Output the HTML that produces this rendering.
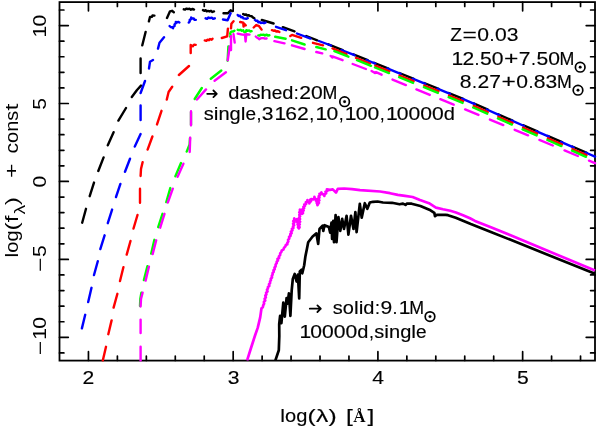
<!DOCTYPE html>
<html><head><meta charset="utf-8"><title>SED</title>
<style>html,body{margin:0;padding:0;background:#fff}svg{display:block}</style></head>
<body><svg width="598" height="429" viewBox="0 0 598 429">
<rect width="598" height="429" fill="#fff"/>
<rect x="59.50" y="2.10" width="535.50" height="358.50" fill="none" stroke="#000" stroke-width="1.8"/>
<path d="M88.45 2.00v8.8M88.45 360.50v-8.8M117.39 2.00v4.4M117.39 360.50v-4.4M146.34 2.00v4.4M146.34 360.50v-4.4M175.28 2.00v4.4M175.28 360.50v-4.4M204.23 2.00v4.4M204.23 360.50v-4.4M233.18 2.00v8.8M233.18 360.50v-8.8M262.12 2.00v4.4M262.12 360.50v-4.4M291.07 2.00v4.4M291.07 360.50v-4.4M320.01 2.00v4.4M320.01 360.50v-4.4M348.96 2.00v4.4M348.96 360.50v-4.4M377.91 2.00v8.8M377.91 360.50v-8.8M406.85 2.00v4.4M406.85 360.50v-4.4M435.80 2.00v4.4M435.80 360.50v-4.4M464.74 2.00v4.4M464.74 360.50v-4.4M493.69 2.00v4.4M493.69 360.50v-4.4M522.64 2.00v8.8M522.64 360.50v-8.8M551.58 2.00v4.4M551.58 360.50v-4.4M580.53 2.00v4.4M580.53 360.50v-4.4M59.50 352.91h4.4M595.00 352.91h-4.4M59.50 337.32h8.8M595.00 337.32h-8.8M59.50 321.73h4.4M595.00 321.73h-4.4M59.50 306.15h4.4M595.00 306.15h-4.4M59.50 290.56h4.4M595.00 290.56h-4.4M59.50 274.97h4.4M595.00 274.97h-4.4M59.50 259.38h8.8M595.00 259.38h-8.8M59.50 243.80h4.4M595.00 243.80h-4.4M59.50 228.21h4.4M595.00 228.21h-4.4M59.50 212.62h4.4M595.00 212.62h-4.4M59.50 197.04h4.4M595.00 197.04h-4.4M59.50 181.45h8.8M595.00 181.45h-8.8M59.50 165.86h4.4M595.00 165.86h-4.4M59.50 150.28h4.4M595.00 150.28h-4.4M59.50 134.69h4.4M595.00 134.69h-4.4M59.50 119.10h4.4M595.00 119.10h-4.4M59.50 103.52h8.8M595.00 103.52h-8.8M59.50 87.93h4.4M595.00 87.93h-4.4M59.50 72.34h4.4M595.00 72.34h-4.4M59.50 56.75h4.4M595.00 56.75h-4.4M59.50 41.17h4.4M595.00 41.17h-4.4M59.50 25.58h8.8M595.00 25.58h-8.8M59.50 9.99h4.4M595.00 9.99h-4.4" stroke="#000" stroke-width="1.7" stroke-linecap="round" fill="none"/>
<path d="M82.2 222.7L86.0 208.8M89.7 196.2L94.0 182.6M98.3 171.0L103.6 157.4M107.8 145.3L113.6 132.2M118.4 120.6L126.0 108.0M131.8 97.0L137.0 90.0L141.0 85.6M140.6 73.0L140.6 58.4M142.3 45.3L145.6 32.0M148.9 21.4L150.0 17.0L152.0 16.8L152.5 15.5L154.4 15.6M167.0 18.0L170.0 11.3L172.0 10.8L173.8 12.2M183.8 9.3L185.2 9.6L186.6 8.6L188.0 9.1L189.5 8.7L190.9 9.7L192.5 8.9L194.0 9.6M203.0 10.1L204.2 10.8L205.6 10.2L206.7 11.3L208.0 10.9L209.5 11.5L211.0 10.8L212.4 12.0L214.0 11.4M223.5 13.2L228.0 13.2L230.6 10.3L232.7 11.1M243.2 14.1L244.5 14.7L246.1 14.5L247.3 15.5L248.9 15.2L250.1 16.1L251.6 16.1L252.8 17.4L254.4 18.2M261.8 20.0L273.6 23.5M282.8 27.2L294.5 31.4M306.3 36.0L317.2 40.3M328.3 44.3L342.7 50.1M353.3 54.4L367.7 60.2M374.1 62.8L388.5 68.6M399.4 73.0L413.8 78.9M424.2 83.0L438.6 88.9M448.9 93.1L463.2 98.9M473.6 103.4L487.9 109.7M498.2 114.3L512.6 120.6M522.9 125.2L537.4 131.4M547.6 135.9L562.1 142.1M572.3 146.5L586.8 152.8" stroke="#000" stroke-width="2.4" stroke-linecap="round" stroke-linejoin="round" fill="none"/>
<path d="M81.9 328.4L85.2 314.8M88.2 302.0L91.5 287.8M94.0 275.0L97.8 261.2M100.3 249.1L104.6 235.3M107.8 223.2L112.1 209.6M116.0 197.0L120.4 183.9M125.0 171.8L130.0 158.7M134.8 146.6L140.6 134.0M140.6 120.0L140.6 105.5M140.6 93.0L145.0 81.0M149.0 68.5L150.0 61.7L153.0 60.0M158.0 48.6L159.5 42.8L164.0 37.3M169.6 26.0L170.6 27.0L172.0 27.2L173.0 28.3L173.3 26.8L174.6 25.9L174.5 24.4L175.7 23.4L175.8 21.9L177.0 22.5L178.3 21.9L179.4 22.5M188.8 22.6L189.7 21.5L189.7 19.9L191.1 19.1L191.2 17.5L192.2 18.5L193.7 18.4L194.4 19.8L195.8 19.9M205.6 18.3L207.1 18.8L208.5 17.5L210.0 18.1L211.7 17.6L213.1 18.9L214.8 18.3M223.0 19.5L227.6 20.2L230.6 13.2M237.7 14.9L238.6 16.0L240.2 15.8L241.0 17.3L242.6 17.1L243.4 18.4L244.9 18.6L246.3 18.8L247.8 18.2M254.9 19.9L256.0 20.7L257.5 20.8L258.2 22.2L259.8 22.0L260.7 23.1L262.3 22.6L264.0 23.2L265.5 22.6M276.0 26.8L286.0 30.2M297.0 33.5L310.5 38.6M318.9 41.0L331.0 45.5M341.5 50.0L354.5 55.2M366.5 60.0L375.3 63.6M387.3 68.4L400.6 73.8M412.6 78.7L425.4 83.8M437.4 88.7L450.1 93.8M462.1 98.7L474.8 104.2M486.8 109.5L499.4 115.1M511.4 120.4L524.1 126.0M536.1 131.2L548.9 136.7M560.9 141.9L573.5 147.4M585.5 152.5L595.0 156.6" stroke="#0000ff" stroke-width="2.4" stroke-linecap="round" stroke-linejoin="round" fill="none"/>
<path d="M102.8 360.4L106.0 346.8M108.3 334.2L111.6 320.4M113.6 307.6L117.4 293.8M120.0 281.0L123.4 267.2M126.7 254.6L130.5 241.0M133.5 228.5L137.5 215.0M140.0 202.8L140.0 188.7M140.6 176.0L141.0 169.0L142.6 162.2M147.6 149.6L152.4 136.5M157.0 124.4L161.5 110.8M166.8 99.5L168.6 92.0L172.2 86.8M178.9 75.0L189.0 66.0M190.7 53.0L190.7 44.9L192.8 46.2L194.0 44.6L195.7 44.9M204.8 40.4L206.3 40.8L207.6 39.6L209.0 40.2L210.0 39.0L211.6 39.8L212.5 38.7M221.8 38.0L227.2 36.3L227.9 28.7M231.0 28.3L231.4 23.7L233.5 21.2M240.2 22.0L243.2 22.7L243.6 26.5L244.0 23.5L245.7 25.4M253.7 27.5L256.2 25.0L259.1 26.2L261.6 29.6M271.9 30.2L273.4 30.7L275.0 30.5L276.3 31.5L278.0 31.2L279.4 32.0M290.3 36.0L292.0 34.9L301.2 37.8M313.0 42.8L323.0 45.3M332.5 48.4L346.5 54.1M356.0 57.9L370.0 63.5M375.3 65.7L389.3 71.3M399.6 75.5L413.6 81.2M424.4 85.5L438.4 91.2M449.1 95.5L463.1 101.2M473.8 105.9L487.8 112.0M498.4 116.8L512.5 122.9M523.1 127.7L537.1 133.7M547.9 138.3L561.9 144.4M572.5 149.0L586.5 155.1" stroke="#ff0000" stroke-width="2.4" stroke-linecap="round" stroke-linejoin="round" fill="none"/>
<path d="M140.0 306.0L140.3 299.0L141.4 292.6M143.9 280.0L147.4 266.2M151.2 253.6L154.4 239.8M158.2 227.2L162.5 213.8M166.3 202.0L170.3 188.1M175.4 176.3L181.0 163.0M186.7 151.6L189.6 144.5L190.0 138.0M191.0 125.0L191.0 112.0M194.7 99.0L201.8 88.0M210.8 78.8L221.3 70.5M227.6 60.8L228.4 46.4M230.2 36.5L230.6 35.1L230.2 33.5L230.7 32.1L231.8 31.5L233.2 31.5L234.4 30.7M237.7 29.8L239.0 30.2L240.5 29.8L241.8 30.7L243.2 30.3L243.8 31.6L244.9 32.4L246.0 31.6L246.4 30.2L247.7 30.8L249.1 30.4L250.2 31.5L251.6 31.2M258.3 35.4L259.6 35.7L260.7 34.7L262.0 34.9L263.5 34.6L264.9 35.5L266.5 34.6L267.9 35.5L269.4 35.2M275.2 36.8L285.6 38.7M292.0 40.3L304.6 44.5M316.3 47.0L325.7 49.4M334.4 51.1L348.4 56.7M357.0 60.2L371.0 65.8M375.0 67.5L389.0 73.1M399.1 77.2L413.1 82.9M423.9 87.2L437.9 92.9M448.6 97.2L462.6 102.9M473.2 107.5L487.2 113.7M497.9 118.4L511.9 124.6M522.6 129.3L536.6 135.4M547.4 140.0L561.4 146.1M572.0 150.7L586.0 156.8" stroke="#00ff00" stroke-width="2.4" stroke-linecap="round" stroke-linejoin="round" fill="none"/>
<path d="M140.6 360.4L140.6 346.8M140.6 333.0L140.6 319.6M140.6 306.5L141.0 299.0L142.6 292.7M145.6 280.6L148.9 266.7M152.7 254.0L156.2 240.3M160.2 227.7L164.5 213.8M167.8 202.5L172.8 188.7M177.6 176.8L183.4 163.7M189.7 152.0L190.2 137.8M191.0 125.2L191.0 111.3M197.0 99.5L206.0 89.4M214.6 80.7L225.9 72.2M227.8 60.2L229.7 46.4M231.0 50.0L231.0 36.3M234.7 42.6L233.5 34.2M237.7 33.6L242.3 34.6L245.0 34.8L245.6 41.5L246.3 34.2L249.5 34.6M255.8 36.5L256.8 37.5L258.2 38.2L259.2 39.3L260.5 38.4L262.0 38.1L263.6 38.1L265.0 38.6L266.6 38.5M274.4 41.1L284.5 43.3M292.0 45.3L304.6 49.0M316.3 52.0L322.2 53.4M330.7 55.9L332.5 57.5L333.0 56.6L342.6 60.2M352.7 64.0L365.9 69.0M371.6 70.9L375.0 73.0L376.0 72.2L381.6 74.7M392.5 79.6L405.9 85.1M416.4 89.4L429.8 94.9M440.3 99.2L453.7 104.7M465.1 109.4L478.5 114.9M489.9 119.6L503.3 125.1M514.7 129.8L528.1 135.3M539.4 139.9L552.8 145.5M564.5 150.4L577.9 156.0M589.0 160.7L595.0 163.2" stroke="#ff00ff" stroke-width="2.4" stroke-linecap="round" stroke-linejoin="round" fill="none"/>
<path d="M247.1 360.4L251.0 348.0L255.2 335.0L257.7 327.9L260.2 317.4L261.5 308.3L262.8 307.2L263.2 305.4L264.1 303.6L263.9 301.9L265.2 300.5L264.6 298.8L265.8 297.4L265.3 295.7L266.4 294.3L266.1 292.7L267.5 291.5L267.0 289.8L267.9 288.4L268.0 286.9L269.3 285.9L269.0 284.2L270.1 283.1L270.0 281.5L270.9 280.3L270.8 278.7L272.0 277.5L271.8 275.9L272.6 274.5L272.6 273.0L273.7 271.9L273.5 270.3L274.7 269.2L274.5 267.7L275.6 266.3L275.6 264.5L276.7 263.2L276.7 261.7L277.9 260.6L277.5 258.9L279.1 258.0L278.9 256.4L280.1 255.1L280.2 253.3L281.3 252.0L281.8 250.4L283.4 249.6L284.0 247.9L285.4 246.4L285.8 245.0L287.3 244.3L287.4 242.7L288.3 241.5L288.1 239.8L289.3 238.6L289.1 236.9L290.6 235.8L290.3 234.1L291.6 233.1L290.9 231.5L292.4 230.5L291.9 228.9L293.4 228.0L293.0 226.4L294.1 225.3L293.1 223.7L294.3 222.5L293.3 221.0L295.0 219.9L294.2 218.4L294.5 219.8L295.9 220.2L297.1 219.1L297.7 220.3L296.9 221.8L298.3 222.9L297.6 224.4L298.7 225.6L298.0 227.2L298.9 228.4L299.6 227.1L298.2 225.7L299.7 224.4L298.4 223.0L300.1 221.7L298.6 220.3L300.0 219.0L299.1 217.6L300.1 216.3L299.3 214.9L300.3 213.7L299.3 212.2L300.8 211.0L299.9 209.6L300.0 210.9L301.7 211.5L300.9 213.2L302.1 213.9L303.0 213.0L301.9 211.4L303.6 210.6L302.6 209.1L304.1 208.2L303.4 206.8L304.9 205.9L304.3 204.5L306.1 204.0L305.8 202.3L307.6 201.6L307.4 200.0L307.6 201.6L309.5 201.9L309.4 203.4L309.6 202.0L310.9 201.3L310.2 199.7L311.6 199.0L313.1 199.5L314.4 198.7L314.4 196.9L314.8 198.6L316.3 199.3L315.9 200.7L317.2 201.6L316.7 203.0L318.2 203.8L317.5 205.2L317.3 203.8L318.9 202.8L317.8 201.3L319.3 200.3L318.0 198.7L319.4 197.7L318.7 196.3L319.9 195.2L319.5 193.8L320.9 193.7L321.4 192.5L321.9 193.9L323.3 194.3L324.4 195.9L324.6 194.2L326.1 193.4L325.5 191.7L327.3 190.9L326.9 189.3L330.0 189.8L332.8 189.4L336.0 192.6L337.8 188.8L344.1 188.5L352.0 189.2L360.0 190.1L380.1 191.5L390.0 193.2L397.8 194.9L405.0 195.9L412.6 197.0L420.0 200.0L429.0 203.2L435.9 207.6L443.0 209.3L450.3 210.8L456.0 212.5L463.0 215.2L470.0 218.3L475.0 220.9L490.9 227.3L510.0 235.0L595.0 270.6" stroke="#ff00ff" stroke-width="2.7" stroke-linejoin="round" stroke-linecap="butt" fill="none"/>
<path d="M275.4 360.4L278.8 350.3L279.3 336.0L279.2 324.2L280.1 315.8L281.4 323.2L283.3 302.7L284.8 316.7L286.6 298.0L287.6 303.7L288.9 293.4L290.4 315.8L291.7 290.3L292.8 279.0L294.7 274.0L296.6 281.5L297.9 274.6L299.2 298.5L299.8 271.4L301.6 269.6L302.3 273.3L304.2 265.2L305.4 256.4L306.9 249.0L308.2 242.2L312.6 236.5L316.4 233.4L318.2 244.0L319.5 229.0L322.6 225.8L323.3 230.9L324.5 225.2L328.9 227.1L330.2 232.7L331.5 222.7L332.1 239.0L333.3 220.8L334.0 242.2L335.6 215.1L336.5 242.2L338.4 217.0L340.3 230.9L342.2 218.9L344.0 229.0L346.6 215.8L348.4 234.6L351.0 215.8L353.5 229.0L355.4 212.0L356.6 232.1L359.8 203.8L361.7 217.6L364.8 203.2L367.3 208.8L369.8 202.5L373.0 201.8L377.6 201.5L383.0 202.5L392.0 202.8L399.5 204.3L403.0 203.6L405.5 204.9L407.0 203.5L411.6 203.7L420.4 206.0L430.5 210.3L434.3 212.8L435.0 216.1L436.8 214.8L445.6 214.8L448.0 215.2L455.7 217.8L470.8 224.1L490.9 231.9L510.0 239.6L595.0 273.8" stroke="#000" stroke-width="2.7" stroke-linejoin="round" stroke-linecap="butt" fill="none"/>
<g font-family="'Liberation Sans', sans-serif" font-size="17.8" fill="#000" stroke="#000" stroke-width="0.15" opacity="0.999">
<text transform="translate(88.40 384.40) scale(1.186 1)" text-anchor="middle" font-size="17.8">2</text>
<text transform="translate(233.50 384.40) scale(1.186 1)" text-anchor="middle" font-size="17.8">3</text>
<text transform="translate(378.20 384.40) scale(1.186 1)" text-anchor="middle" font-size="17.8">4</text>
<text transform="translate(522.90 384.40) scale(1.186 1)" text-anchor="middle" font-size="17.8">5</text>
<text transform="translate(282.70 422.40) scale(1.188 1)" text-anchor="middle" font-size="17.8">l</text>
<text transform="translate(290.62 422.40) scale(1.127 1)" text-anchor="middle" font-size="17.8">o</text>
<text transform="translate(301.78 422.40) scale(1.127 1)" text-anchor="middle" font-size="17.8">g</text>
<text transform="translate(311.46 422.40) scale(1.380 1)" text-anchor="middle" font-size="17.8">(</text>
<text transform="translate(322.03 422.40) scale(1.380 1)" text-anchor="middle" font-size="17.8">λ</text>
<text transform="translate(332.59 422.40) scale(1.380 1)" text-anchor="middle" font-size="17.8">)</text>
<text transform="translate(349.36 422.40) scale(1.380 1)" text-anchor="middle" font-size="17.8">[</text>
<text transform="translate(370.95 422.40) scale(1.380 1)" text-anchor="middle" font-size="17.8">]</text>
<text x="359.3" y="422.4" text-anchor="middle" font-family="'Liberation Serif', serif" font-weight="bold" font-size="17" stroke="none">Å</text>
<text transform="translate(456.21 41.30) scale(1.079 1)" text-anchor="middle" font-size="17.8">Z</text>
<text transform="translate(469.71 41.30) scale(1.380 1)" text-anchor="middle" font-size="17.8">=</text>
<text transform="translate(483.21 41.30) scale(1.186 1)" text-anchor="middle" font-size="17.8">0</text>
<text transform="translate(492.02 41.30) scale(1.000 1)" text-anchor="middle" font-size="17.8">.</text>
<text transform="translate(500.82 41.30) scale(1.186 1)" text-anchor="middle" font-size="17.8">0</text>
<text transform="translate(512.56 41.30) scale(1.186 1)" text-anchor="middle" font-size="17.8">3</text>
<text transform="translate(457.35 64.60) scale(1.186 1)" text-anchor="middle" font-size="17.8">1</text>
<text transform="translate(468.29 64.60) scale(1.186 1)" text-anchor="middle" font-size="17.8">2</text>
<text transform="translate(477.09 64.60) scale(1.000 1)" text-anchor="middle" font-size="17.8">.</text>
<text transform="translate(485.90 64.60) scale(1.186 1)" text-anchor="middle" font-size="17.8">5</text>
<text transform="translate(497.64 64.60) scale(1.186 1)" text-anchor="middle" font-size="17.8">0</text>
<text transform="translate(511.14 64.60) scale(1.380 1)" text-anchor="middle" font-size="17.8">+</text>
<text transform="translate(524.64 64.60) scale(1.186 1)" text-anchor="middle" font-size="17.8">7</text>
<text transform="translate(533.44 64.60) scale(1.000 1)" text-anchor="middle" font-size="17.8">.</text>
<text transform="translate(542.25 64.60) scale(1.186 1)" text-anchor="middle" font-size="17.8">5</text>
<text transform="translate(553.99 64.60) scale(1.186 1)" text-anchor="middle" font-size="17.8">0</text>
<text transform="translate(566.90 64.60) scale(1.000 1)" text-anchor="middle" font-size="17.8">M</text>
<circle cx="580.2" cy="67.2" r="4.8" fill="none" stroke="#000" stroke-width="1.7"/><circle cx="580.2" cy="67.2" r="1.4" fill="#000"/>
<text transform="translate(465.71 87.60) scale(1.186 1)" text-anchor="middle" font-size="17.8">8</text>
<text transform="translate(474.51 87.60) scale(1.000 1)" text-anchor="middle" font-size="17.8">.</text>
<text transform="translate(483.32 87.60) scale(1.186 1)" text-anchor="middle" font-size="17.8">2</text>
<text transform="translate(495.06 87.60) scale(1.186 1)" text-anchor="middle" font-size="17.8">7</text>
<text transform="translate(508.56 87.60) scale(1.380 1)" text-anchor="middle" font-size="17.8">+</text>
<text transform="translate(522.06 87.60) scale(1.186 1)" text-anchor="middle" font-size="17.8">0</text>
<text transform="translate(530.87 87.60) scale(1.000 1)" text-anchor="middle" font-size="17.8">.</text>
<text transform="translate(539.67 87.60) scale(1.186 1)" text-anchor="middle" font-size="17.8">8</text>
<text transform="translate(551.41 87.60) scale(1.186 1)" text-anchor="middle" font-size="17.8">3</text>
<text transform="translate(564.33 87.60) scale(1.000 1)" text-anchor="middle" font-size="17.8">M</text>
<circle cx="578.0" cy="90.2" r="4.8" fill="none" stroke="#000" stroke-width="1.7"/><circle cx="578.0" cy="90.2" r="1.4" fill="#000"/>
<path d="M207.2 93.8H216.8M213.4 90.5l3.4 3.3l-3.4 3.3" fill="none" stroke="#000" stroke-width="1.8" stroke-linecap="round" stroke-linejoin="round"/>
<text transform="translate(233.83 98.60) scale(1.127 1)" text-anchor="middle" font-size="17.8">d</text>
<text transform="translate(244.98 98.60) scale(1.127 1)" text-anchor="middle" font-size="17.8">a</text>
<text transform="translate(255.55 98.60) scale(1.121 1)" text-anchor="middle" font-size="17.8">s</text>
<text transform="translate(266.11 98.60) scale(1.127 1)" text-anchor="middle" font-size="17.8">h</text>
<text transform="translate(276.97 98.60) scale(1.068 1)" text-anchor="middle" font-size="17.8">e</text>
<text transform="translate(287.83 98.60) scale(1.127 1)" text-anchor="middle" font-size="17.8">d</text>
<text transform="translate(296.34 98.60) scale(1.000 1)" text-anchor="middle" font-size="17.8">:</text>
<text transform="translate(305.15 98.60) scale(1.186 1)" text-anchor="middle" font-size="17.8">2</text>
<text transform="translate(316.89 98.60) scale(1.186 1)" text-anchor="middle" font-size="17.8">0</text>
<text transform="translate(329.80 98.60) scale(1.000 1)" text-anchor="middle" font-size="17.8">M</text>
<circle cx="344.6" cy="101.7" r="4.8" fill="none" stroke="#000" stroke-width="1.7"/><circle cx="344.6" cy="101.7" r="1.4" fill="#000"/>
<text transform="translate(208.73 119.50) scale(1.121 1)" text-anchor="middle" font-size="17.8">s</text>
<text transform="translate(216.07 119.50) scale(1.188 1)" text-anchor="middle" font-size="17.8">i</text>
<text transform="translate(223.99 119.50) scale(1.127 1)" text-anchor="middle" font-size="17.8">n</text>
<text transform="translate(235.14 119.50) scale(1.127 1)" text-anchor="middle" font-size="17.8">g</text>
<text transform="translate(243.07 119.50) scale(1.188 1)" text-anchor="middle" font-size="17.8">l</text>
<text transform="translate(250.70 119.50) scale(1.068 1)" text-anchor="middle" font-size="17.8">e</text>
<text transform="translate(258.92 119.50) scale(1.000 1)" text-anchor="middle" font-size="17.8">,</text>
<text transform="translate(267.72 119.50) scale(1.186 1)" text-anchor="middle" font-size="17.8">3</text>
<text transform="translate(280.26 119.50) scale(1.186 1)" text-anchor="middle" font-size="17.8">1</text>
<text transform="translate(291.20 119.50) scale(1.186 1)" text-anchor="middle" font-size="17.8">6</text>
<text transform="translate(302.94 119.50) scale(1.186 1)" text-anchor="middle" font-size="17.8">2</text>
<text transform="translate(311.75 119.50) scale(1.000 1)" text-anchor="middle" font-size="17.8">,</text>
<text transform="translate(321.35 119.50) scale(1.186 1)" text-anchor="middle" font-size="17.8">1</text>
<text transform="translate(332.29 119.50) scale(1.186 1)" text-anchor="middle" font-size="17.8">0</text>
<text transform="translate(341.10 119.50) scale(1.000 1)" text-anchor="middle" font-size="17.8">,</text>
<text transform="translate(350.70 119.50) scale(1.186 1)" text-anchor="middle" font-size="17.8">1</text>
<text transform="translate(361.64 119.50) scale(1.186 1)" text-anchor="middle" font-size="17.8">0</text>
<text transform="translate(373.38 119.50) scale(1.186 1)" text-anchor="middle" font-size="17.8">0</text>
<text transform="translate(382.19 119.50) scale(1.000 1)" text-anchor="middle" font-size="17.8">,</text>
<text transform="translate(391.79 119.50) scale(1.186 1)" text-anchor="middle" font-size="17.8">1</text>
<text transform="translate(402.73 119.50) scale(1.186 1)" text-anchor="middle" font-size="17.8">0</text>
<text transform="translate(414.47 119.50) scale(1.186 1)" text-anchor="middle" font-size="17.8">0</text>
<text transform="translate(426.21 119.50) scale(1.186 1)" text-anchor="middle" font-size="17.8">0</text>
<text transform="translate(437.95 119.50) scale(1.186 1)" text-anchor="middle" font-size="17.8">0</text>
<text transform="translate(449.40 119.50) scale(1.127 1)" text-anchor="middle" font-size="17.8">d</text>
<path d="M309.8 308.7H320.8M317.4 305.4l3.4 3.3l-3.4 3.3" fill="none" stroke="#000" stroke-width="1.8" stroke-linecap="round" stroke-linejoin="round"/>
<text transform="translate(337.83 314.40) scale(1.121 1)" text-anchor="middle" font-size="17.8">s</text>
<text transform="translate(348.39 314.40) scale(1.127 1)" text-anchor="middle" font-size="17.8">o</text>
<text transform="translate(356.32 314.40) scale(1.188 1)" text-anchor="middle" font-size="17.8">l</text>
<text transform="translate(361.02 314.40) scale(1.188 1)" text-anchor="middle" font-size="17.8">i</text>
<text transform="translate(368.94 314.40) scale(1.127 1)" text-anchor="middle" font-size="17.8">d</text>
<text transform="translate(377.45 314.40) scale(1.000 1)" text-anchor="middle" font-size="17.8">:</text>
<text transform="translate(386.26 314.40) scale(1.186 1)" text-anchor="middle" font-size="17.8">9</text>
<text transform="translate(395.06 314.40) scale(1.000 1)" text-anchor="middle" font-size="17.8">.</text>
<text transform="translate(404.67 314.40) scale(1.186 1)" text-anchor="middle" font-size="17.8">1</text>
<text transform="translate(416.78 314.40) scale(1.000 1)" text-anchor="middle" font-size="17.8">M</text>
<circle cx="430.0" cy="316.6" r="4.8" fill="none" stroke="#000" stroke-width="1.7"/><circle cx="430.0" cy="316.6" r="1.4" fill="#000"/>
<text transform="translate(305.25 337.70) scale(1.186 1)" text-anchor="middle" font-size="17.8">1</text>
<text transform="translate(316.19 337.70) scale(1.186 1)" text-anchor="middle" font-size="17.8">0</text>
<text transform="translate(327.93 337.70) scale(1.186 1)" text-anchor="middle" font-size="17.8">0</text>
<text transform="translate(339.67 337.70) scale(1.186 1)" text-anchor="middle" font-size="17.8">0</text>
<text transform="translate(351.41 337.70) scale(1.186 1)" text-anchor="middle" font-size="17.8">0</text>
<text transform="translate(362.85 337.70) scale(1.127 1)" text-anchor="middle" font-size="17.8">d</text>
<text transform="translate(371.37 337.70) scale(1.000 1)" text-anchor="middle" font-size="17.8">,</text>
<text transform="translate(379.29 337.70) scale(1.121 1)" text-anchor="middle" font-size="17.8">s</text>
<text transform="translate(386.63 337.70) scale(1.188 1)" text-anchor="middle" font-size="17.8">i</text>
<text transform="translate(394.55 337.70) scale(1.127 1)" text-anchor="middle" font-size="17.8">n</text>
<text transform="translate(405.71 337.70) scale(1.127 1)" text-anchor="middle" font-size="17.8">g</text>
<text transform="translate(413.63 337.70) scale(1.188 1)" text-anchor="middle" font-size="17.8">l</text>
<text transform="translate(421.26 337.70) scale(1.068 1)" text-anchor="middle" font-size="17.8">e</text>
<text transform="translate(46.20 31.55) rotate(-90) scale(1.186 1)" text-anchor="middle" font-size="17.8" stroke="none">1</text>
<text transform="translate(46.20 20.61) rotate(-90) scale(1.186 1)" text-anchor="middle" font-size="17.8" stroke="none">0</text>
<text transform="translate(46.20 103.80) rotate(-90) scale(1.186 1)" text-anchor="middle" font-size="17.8" stroke="none">5</text>
<text transform="translate(46.20 181.70) rotate(-90) scale(1.186 1)" text-anchor="middle" font-size="17.8" stroke="none">0</text>
<text transform="translate(46.20 264.76) rotate(-90) scale(1.380 1)" text-anchor="middle" font-size="17.8" stroke="none">−</text>
<text transform="translate(46.20 251.26) rotate(-90) scale(1.186 1)" text-anchor="middle" font-size="17.8" stroke="none">5</text>
<text transform="translate(46.20 348.13) rotate(-90) scale(1.380 1)" text-anchor="middle" font-size="17.8" stroke="none">−</text>
<text transform="translate(46.20 333.83) rotate(-90) scale(1.186 1)" text-anchor="middle" font-size="17.8" stroke="none">1</text>
<text transform="translate(46.20 322.89) rotate(-90) scale(1.186 1)" text-anchor="middle" font-size="17.8" stroke="none">0</text>
<text transform="translate(18.00 255.10) rotate(-90) scale(1.188 1)" text-anchor="middle" font-size="17.8" stroke="none">l</text>
<text transform="translate(18.00 247.18) rotate(-90) scale(1.127 1)" text-anchor="middle" font-size="17.8" stroke="none">o</text>
<text transform="translate(18.00 236.02) rotate(-90) scale(1.127 1)" text-anchor="middle" font-size="17.8" stroke="none">g</text>
<text transform="translate(18.00 226.34) rotate(-90) scale(1.380 1)" text-anchor="middle" font-size="17.8" stroke="none">(</text>
<text transform="translate(18.00 218.71) rotate(-90) scale(1.380 1)" text-anchor="middle" font-size="17.8" stroke="none">f</text>
<text transform="translate(24.8 209.7) rotate(-90) scale(1.3 1)" text-anchor="middle" font-size="15" stroke="none">λ</text>
<text transform="translate(18.00 201.25) rotate(-90) scale(1.380 1)" text-anchor="middle" font-size="17.8" stroke="none">)</text>
<text transform="translate(18.00 170.83) rotate(-90) scale(1.380 1)" text-anchor="middle" font-size="17.8" stroke="none">+</text>
<text transform="translate(18.00 148.26) rotate(-90) scale(1.187 1)" text-anchor="middle" font-size="17.8" stroke="none">c</text>
<text transform="translate(18.00 137.41) rotate(-90) scale(1.127 1)" text-anchor="middle" font-size="17.8" stroke="none">o</text>
<text transform="translate(18.00 126.25) rotate(-90) scale(1.127 1)" text-anchor="middle" font-size="17.8" stroke="none">n</text>
<text transform="translate(18.00 115.69) rotate(-90) scale(1.121 1)" text-anchor="middle" font-size="17.8" stroke="none">s</text>
<text transform="translate(18.00 107.17) rotate(-90) scale(1.380 1)" text-anchor="middle" font-size="17.8" stroke="none">t</text>
</g>
</svg></body></html>
